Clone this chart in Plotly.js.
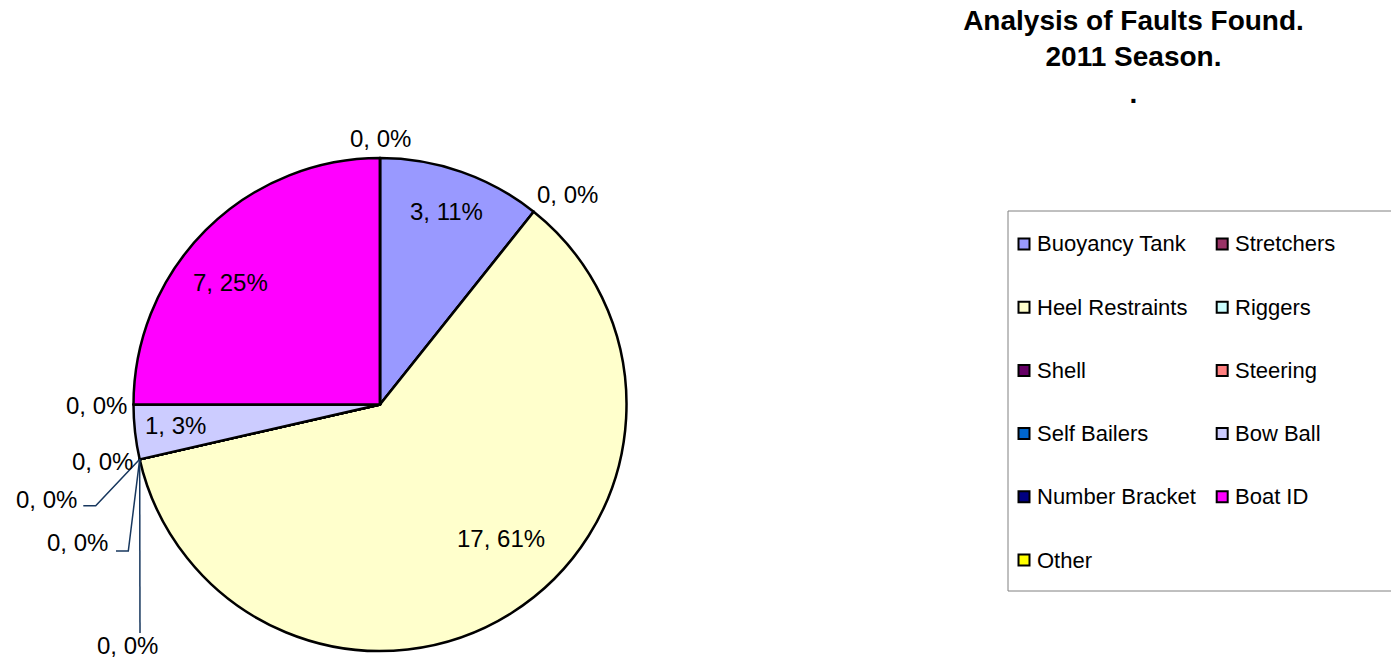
<!DOCTYPE html>
<html><head><meta charset="utf-8">
<script src="https://cdn.plot.ly/plotly-3.0.1.min.js"></script>
<style>html,body{margin:0;padding:0;background:#fff}</style>
</head><body><div id="chart" style="width:1391px;height:660px"></div>
<script>
// ---- data ----
const categories = ["Buoyancy Tank","Stretchers","Heel Restraints","Riggers","Shell","Steering","Self Bailers","Bow Ball","Number Bracket","Boat ID","Other"];
const faultCounts = [3,0,17,0,0,0,0,1,0,7,0];
const percentLabels = [11,0,61,0,0,0,0,3,0,25,0];
const sliceColors = ["#9999FF","#993366","#FFFFCC","#CCFFFF","#660066","#FF8080","#0066CC","#CCCCFF","#000080","#FF00FF","#FFFF00"];
const titleLines = ["Analysis of Faults Found.","2011 Season.","."];

// ---- geometry / layout helpers ----
const W = 1391, H = 660;
const CX = 380, CY = 404.5, R = 246.5;
const px = x => x / W, py = y => 1 - y / H;
const FONT = "Liberation Sans, Arial, sans-serif";

// label centres (pixels), one per slice
const labelPos = [[446.5,211.5],[567.5,195],[500.5,538],[102,461.5],[46,499],[77.5,542.5],[127,645.5],[175.5,425],[96,405],[230.5,282.5],[380,139]];
// leader line bend points (pixels) for crowded zero labels
const leaderPts = {4: [[95.7,505.7],[83.3,505.7]], 5: [[128.3,551],[116,551]], 6: [[140,633]]};

const total = faultCounts.reduce((a,b)=>a+b,0);
function sliceStartAngle(i){
  let s = 0; for(let k=0;k<i;k++) s += faultCounts[k];
  return s / total * 2 * Math.PI;
}

const annotations = [];
const shapes = [];

// data labels
categories.forEach((c,i)=>{
  annotations.push({
    x: px(labelPos[i][0]), y: py(labelPos[i][1]), xref:'paper', yref:'paper',
    text: faultCounts[i] + ', ' + percentLabels[i] + '%', showarrow:false,
    xanchor:'center', yanchor:'middle', font:{family:FONT, size:24, color:'#000'}
  });
});
// leader lines
Object.keys(leaderPts).forEach(k=>{
  const i = +k, a = sliceStartAngle(i);
  const sx = CX + R*Math.sin(a), sy = CY - R*Math.cos(a);
  let d = 'M ' + px(sx) + ',' + py(sy);
  leaderPts[i].forEach(p=>{ d += ' L ' + px(p[0]) + ',' + py(p[1]); });
  shapes.push({type:'path', xref:'paper', yref:'paper', path:d, line:{color:'#17375E', width:1.5}});
});

// legend (two columns)
const LEG = {x0:1008, y0:211, x1:1395, y1:591, col:[1018.5,1216.7], row0:244, rowStep:63.2, box:11, textDx:16};
shapes.push({type:'rect', xref:'paper', yref:'paper', x0:px(LEG.x0), x1:px(LEG.x1), y0:py(LEG.y1), y1:py(LEG.y0), line:{color:'#808080', width:1}, fillcolor:'rgba(0,0,0,0)'});
categories.forEach((c,i)=>{
  const col = i % 2, row = Math.floor(i/2);
  const mx = LEG.col[col], my = LEG.row0 + row*LEG.rowStep;
  shapes.push({type:'rect', xref:'paper', yref:'paper', x0:px(mx), x1:px(mx+LEG.box), y0:py(my+LEG.box/2), y1:py(my-LEG.box/2), line:{color:'#000', width:2}, fillcolor:sliceColors[i]});
  annotations.push({x:px(mx+LEG.textDx), y:py(my), xref:'paper', yref:'paper', text:c, showarrow:false, xanchor:'left', yanchor:'middle', font:{family:FONT, size:22, color:'#000'}});
});

const trace = {
  type:'pie', labels:categories, values:faultCounts,
  marker:{colors:sliceColors, line:{color:'#000', width:2.5}},
  sort:false, direction:'clockwise', rotation:0,
  textinfo:'none', hoverinfo:'label+value+percent', showlegend:false,
  domain:{x:[(CX-R)/W, (CX+R)/W], y:[1-(CY+R)/H, 1-(CY-R)/H]}
};

const layout = {
  width:W, height:H, margin:{l:0,r:0,t:0,b:0},
  paper_bgcolor:'#fff', plot_bgcolor:'#fff', showlegend:false,
  title:{text:titleLines.join('<br>'), x:1133.5/W, xanchor:'center', xref:'paper', y:1-30/H, yanchor:'top', yref:'container',
         font:{family:FONT, size:28, color:'#000', weight:'bold'}},
  annotations:annotations, shapes:shapes
};

Plotly.newPlot('chart',[trace],layout,{displayModeBar:false, staticPlot:true});
</script></body></html>
